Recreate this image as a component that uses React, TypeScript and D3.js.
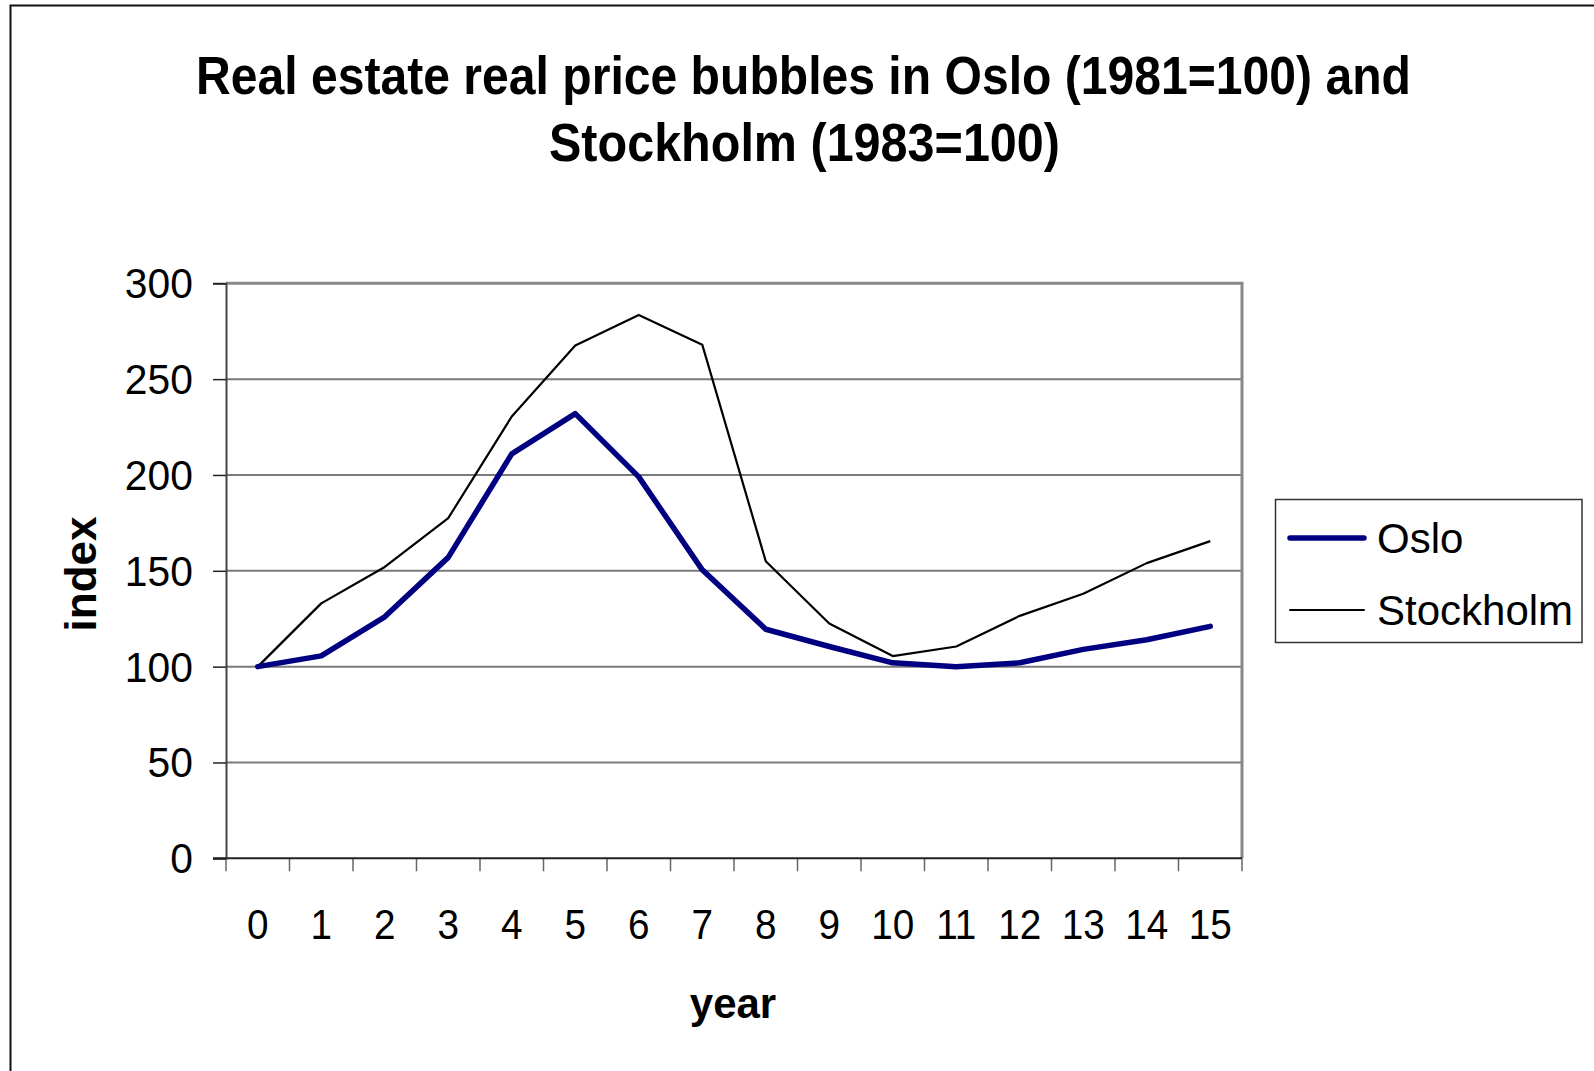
import { useEffect, useRef } from 'react';
import * as d3 from 'd3';

const years = ['0', '1', '2', '3', '4', '5', '6', '7', '8', '9', '10', '11', '12', '13', '14', '15'];
const oslo = [100, 105.6, 126, 157, 211, 232, 199, 150.5, 119.5, 110.5, 102, 100, 102, 109, 114, 121];
const stockholm = [100, 133, 152, 177.5, 230.5, 267.5, 283.5, 268, 155, 122.5, 105.5, 110.5, 126.5, 138, 154, 165.5];
const yTicks = [0, 50, 100, 150, 200, 250, 300];
const titleLines = ['Real estate real price bubbles in Oslo (1981=100) and', 'Stockholm (1983=100)'];

const App = () => {
  const svgRef = useRef<SVGSVGElement>(null);

  useEffect(() => {
    const width = 1594;
    const height = 1071;
    const plot = { left: 226, right: 1242, top: 283.3, bottom: 858.3 };
    const font = 'Arial, "Liberation Sans", sans-serif';

    const svg = d3.select(svgRef.current).attr('width', width).attr('height', height);
    svg.selectAll('*').remove();

    svg.append('rect').attr('width', width).attr('height', height).attr('fill', '#fff');

    // outer frame (right and bottom edges fall outside the picture)
    svg.append('path')
      .attr('d', `M10.5,${height} V5.5 H${width}`)
      .attr('fill', 'none')
      .attr('stroke', '#111')
      .attr('stroke-width', 2);

    const x = d3.scaleBand().domain(years).range([plot.left, plot.right]);
    const y = d3.scaleLinear().domain([0, 300]).range([plot.bottom, plot.top]);
    const cx = (d: string) => (x(d) as number) + x.bandwidth() / 2;

    // title
    const titleBox = [
      { y: 93.5, x0: 196, x1: 1411 },
      { y: 161, x0: 549, x1: 1060 },
    ];
    titleLines.forEach((t, i) => {
      const b = titleBox[i];
      svg.append('text')
        .attr('x', b.x0)
        .attr('y', b.y)
        .attr('textLength', b.x1 - b.x0)
        .attr('lengthAdjust', 'spacingAndGlyphs')
        .attr('font-family', font)
        .attr('font-weight', 'bold')
        .attr('font-size', 54)
        .attr('fill', '#000')
        .text(t);
    });

    // gridlines
    svg.append('g')
      .selectAll('line')
      .data(yTicks.filter((v) => v > 0 && v < 300))
      .join('line')
      .attr('x1', plot.left)
      .attr('x2', plot.right)
      .attr('y1', (d) => y(d))
      .attr('y2', (d) => y(d))
      .attr('stroke', '#7a7a7a')
      .attr('stroke-width', 2);

    // plot area frame: top and right in gray
    svg.append('path')
      .attr('d', `M${plot.left},${plot.top} H${plot.right} V${plot.bottom}`)
      .attr('fill', 'none')
      .attr('stroke', '#888')
      .attr('stroke-width', 3);

    // y axis
    const yAxis = svg.append('g').attr('transform', `translate(${plot.left},0)`)
      .call(d3.axisLeft(y).tickValues(yTicks).tickSize(13).tickPadding(0).tickFormat(() => ''));
    yAxis.select('.domain').attr('stroke', '#444').attr('stroke-width', 2);
    yAxis.selectAll('.tick line').attr('stroke', '#222').attr('stroke-width', 1.5);

    svg.append('g')
      .selectAll('text')
      .data(yTicks)
      .join('text')
      .attr('transform', (d) => `translate(193,${y(d) + 15}) scale(0.95,1)`)
      .attr('text-anchor', 'end')
      .attr('font-family', font)
      .attr('font-size', 43)
      .attr('fill', '#000')
      .text((d) => d);

    // x axis: ticks sit between categories
    const edges = years.map((d) => x(d) as number).concat([plot.right]);
    svg.append('g')
      .selectAll('line')
      .data(edges)
      .join('line')
      .attr('x1', (d) => d)
      .attr('x2', (d) => d)
      .attr('y1', plot.bottom)
      .attr('y2', plot.bottom + 13)
      .attr('stroke', '#666')
      .attr('stroke-width', 1.5);
    svg.append('line')
      .attr('x1', plot.left - 13)
      .attr('x2', plot.right)
      .attr('y1', plot.bottom)
      .attr('y2', plot.bottom)
      .attr('stroke', '#222')
      .attr('stroke-width', 2);

    svg.append('g')
      .selectAll('text')
      .data(years)
      .join('text')
      .attr('transform', (d) => `translate(${cx(d)},939) scale(0.9,1)`)
      .attr('text-anchor', 'middle')
      .attr('font-family', font)
      .attr('font-size', 43)
      .attr('fill', '#000')
      .text((d) => d);

    // axis titles
    svg.append('text')
      .attr('x', 733)
      .attr('y', 1018)
      .attr('text-anchor', 'middle')
      .attr('font-family', font)
      .attr('font-weight', 'bold')
      .attr('font-size', 42)
      .text('year');

    svg.append('text')
      .attr('transform', 'translate(96,574) rotate(-90)')
      .attr('text-anchor', 'middle')
      .attr('font-family', font)
      .attr('font-weight', 'bold')
      .attr('font-size', 44)
      .text('index');

    // series
    const line = d3.line<number>()
      .x((_, i) => cx(years[i]))
      .y((d) => y(d));

    svg.append('path')
      .datum(stockholm)
      .attr('d', line)
      .attr('fill', 'none')
      .attr('stroke', '#000')
      .attr('stroke-width', 2.2)
      .attr('stroke-linejoin', 'round');

    svg.append('path')
      .datum(oslo)
      .attr('d', line)
      .attr('fill', 'none')
      .attr('stroke', '#000080')
      .attr('stroke-width', 5.5)
      .attr('stroke-linejoin', 'round')
      .attr('stroke-linecap', 'round');

    // legend
    const legend = svg.append('g');
    legend.append('rect')
      .attr('x', 1275.5)
      .attr('y', 499.5)
      .attr('width', 306.5)
      .attr('height', 143)
      .attr('fill', '#fff')
      .attr('stroke', '#333')
      .attr('stroke-width', 1.5);

    const items = [
      { name: 'Oslo', color: '#000080', w: 5.5, y: 538 },
      { name: 'Stockholm', color: '#000', w: 2, y: 610 },
    ];
    items.forEach((it) => {
      legend.append('line')
        .attr('x1', 1290)
        .attr('x2', 1364)
        .attr('y1', it.y)
        .attr('y2', it.y)
        .attr('stroke', it.color)
        .attr('stroke-width', it.w)
        .attr('stroke-linecap', 'round');
      legend.append('text')
        .attr('x', 1377)
        .attr('y', it.y + 15)
        .attr('font-family', font)
        .attr('font-size', 42)
        .attr('fill', '#000')
        .text(it.name);
    });
  }, []);

  return (
    <div style={{ position: 'absolute', left: 0, top: 0 }}>
      <svg ref={svgRef} style={{ display: 'block' }}></svg>
    </div>
  );
};

export default App;
